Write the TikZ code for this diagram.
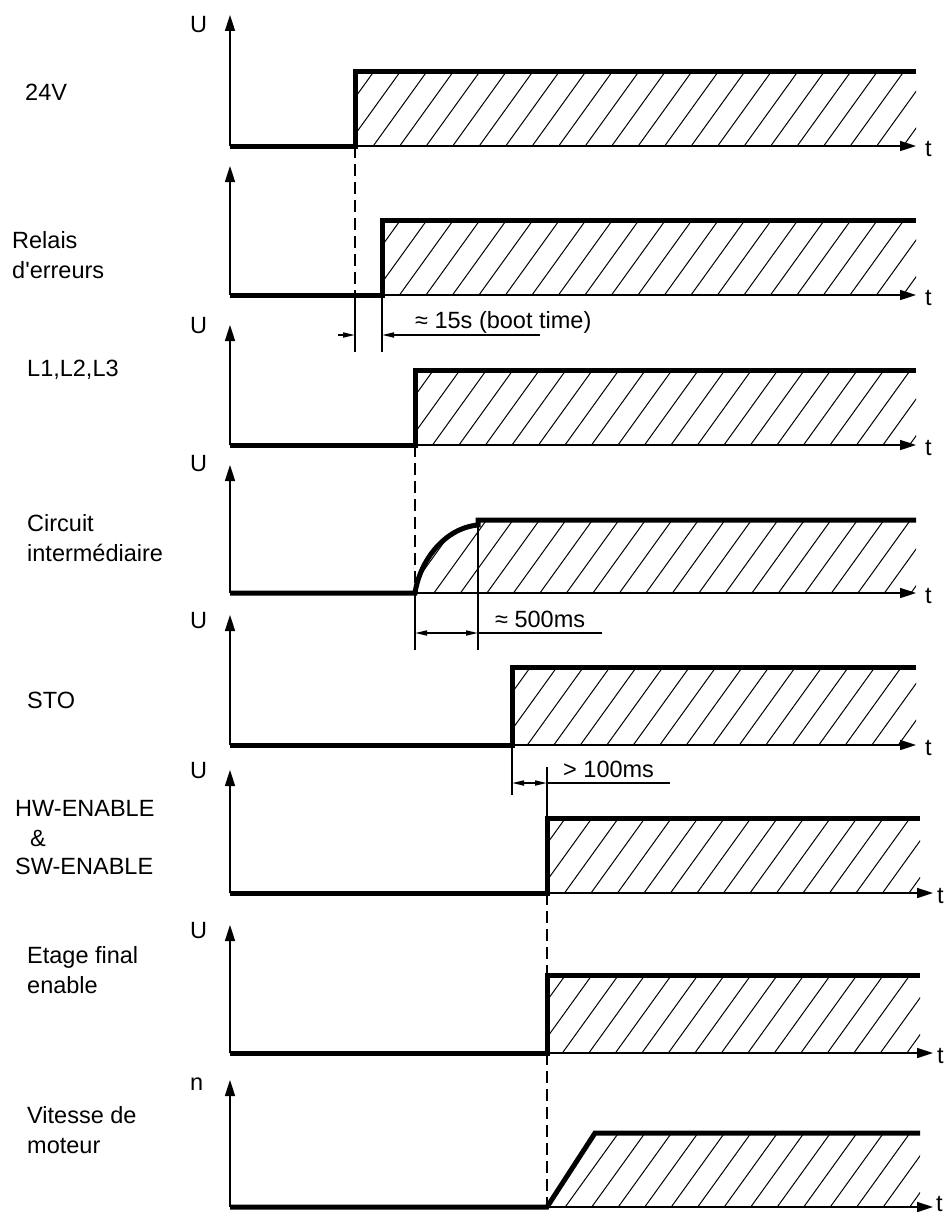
\documentclass[tikz,border=0pt]{standalone}
\usepackage{fontspec}
\setmainfont{Liberation Sans}
\usetikzlibrary{arrows.meta}
\newcommand{\hatchlines}[3]{% #1 xstart, #2 ybase, #3 height
  \foreach \i in {0,...,32} {\draw[hatchline] ({#1+\i*26.5},#2) -- ++({0.72*#3},{-#3});}}
\newcommand{\steppanel}[6]{% #1 tip, #2 base, #3 high, #4 rise, #5 end, #6 arrow end
  \begin{scope}
    \clip (#4,#3) rectangle (#5,#2);
    \pgfmathsetmacro{\hh}{#2-#3}
    \hatchlines{#4-0.72*\hh-8}{#2}{\hh}
  \end{scope}
  \draw[axis] (230,#2) -- (230,#1);
  \draw[axis] (230,#2) -- (#6,#2);
  \draw[signal] (230,#2) -- (#4,#2) -- (#4,#3) -- (#5,#3);}
\begin{document}
\begin{tikzpicture}[x=1pt,y=-1pt,
  axis/.style={line width=1.6pt,-{Triangle[length=16pt,width=10pt]}},
  signal/.style={line width=5pt,line join=miter},
  hatchline/.style={line width=1pt},
  dashline/.style={line width=1.6pt,dash pattern=on 12pt off 6pt},
  extline/.style={line width=1.6pt},
  dimtip/.style={line width=1.6pt,-{Triangle[length=12pt,width=5pt]}},
  dimboth/.style={line width=1.6pt,{Triangle[length=12pt,width=5pt]}-{Triangle[length=12pt,width=5pt]}},
  lbl/.style={anchor=base west,inner sep=0pt,font=\fontsize{23.5}{28}\selectfont},
]
\useasboundingbox (0,0) rectangle (950,1215);

% ---------- panels ----------
\steppanel{15}{146}{72}{355}{916}{916}
\steppanel{166}{295}{220}{382}{916}{916}
\steppanel{325}{445}{370}{415}{916}{916}
\steppanel{615}{745}{667}{512}{916}{916}
\steppanel{770}{893}{818}{547}{920}{933}
\steppanel{925}{1053}{975}{547}{920}{933}

% panel 4 : intermediate circuit (curve)
\begin{scope}
  \clip (415,593) .. controls (420,560) and (445,528) .. (478,525) -- (478,520) -- (916,520) -- (916,593) -- cycle;
  \hatchlines{415-0.72*73-8}{593}{73}
\end{scope}
\draw[axis] (230,593) -- (230,465);
\draw[axis] (230,593) -- (916,593);
\draw[signal] (230,593) -- (415,593) .. controls (420,560) and (445,528) .. (478,525) -- (478,520) -- (916,520);

% panel 8 : motor speed (ramp)
\begin{scope}
  \clip (547,1207) -- (595,1133) -- (920,1133) -- (920,1207) -- cycle;
  \hatchlines{547-0.72*74-8}{1207}{74}
\end{scope}
\draw[axis] (230,1207) -- (230,1080);
\draw[axis] (230,1207) -- (933,1207);
\draw[signal] (230,1207) -- (547,1207) -- (595,1133) -- (920,1133);

% ---------- dashed / extension lines ----------
\draw[dashline] (355,146) -- (355,295);
\draw[extline] (355,295) -- (355,352);
\draw[extline] (382,295) -- (382,352);
\draw[dashline] (415,445) -- (415,593);
\draw[extline] (415,593) -- (415,650);
\draw[extline] (478,520) -- (478,650);
\draw[extline] (512,745) -- (512,795);
\draw[extline] (547,767) -- (547,818);
\draw[dashline] (547,893) -- (547,975);
\draw[dashline] (547,1053) -- (547,1207);

% ---------- dimensions ----------
\draw[dimtip] (338,335) -- (355,335);
\draw[dimtip] (540,335) -- (382,335);
\node[lbl] (t15) at (415,328) {≈ 15s (boot time)};

\draw[dimboth] (415,633) -- (478,633);
\draw[extline] (478,633) -- (602,633);
\node[lbl] (t500) at (495,627) {≈ 500ms};

\draw[dimboth] (512,783) -- (547,783);
\draw[extline] (547,783) -- (670,783);
\node[lbl] (t100) at (563,777) {> 100ms};

% ---------- axis labels ----------
\node[lbl] (u1) at (190,33) {U};
\node[lbl] (u3) at (190,333) {U};
\node[lbl] (u4) at (190,471) {U};
\node[lbl] (u5) at (190,628) {U};
\node[lbl] (u6) at (190,778) {U};
\node[lbl] (u7) at (190,938) {U};
\node[lbl] (n8) at (190,1090) {n};

\node[lbl] (tt1) at (925,156) {t};
\node[lbl] (tt2) at (925,305) {t};
\node[lbl] (tt3) at (925,455) {t};
\node[lbl] (tt4) at (925,603) {t};
\node[lbl] (tt5) at (925,755) {t};
\node[lbl] (tt6) at (937,903) {t};
\node[lbl] (tt7) at (937,1063) {t};
\node[lbl] (tt8) at (936,1211) {t};

% ---------- signal names ----------
\node[lbl] (l1) at (25,100) {24V};
\node[lbl] (l2a) at (12,248) {Relais};
\node[lbl] (l2b) at (12,278) {d\textquotesingle erreurs};
\node[lbl] (l3) at (27,376) {L1,L2,L3};
\node[lbl] (l4a) at (27,531) {Circuit};
\node[lbl] (l4b) at (27,561) {intermédiaire};
\node[lbl] (l5) at (27,708) {STO};
\node[lbl] (l6a) at (15,816) {HW-ENABLE};
\node[lbl] (l6b) at (30,846) {\&};
\node[lbl] (l6c) at (15,874) {SW-ENABLE};
\node[lbl] (l7a) at (27,963) {Etage final};
\node[lbl] (l7b) at (27,993) {enable};
\node[lbl] (l8a) at (27,1123) {Vitesse de};
\node[lbl] (l8b) at (27,1153) {moteur};
\end{tikzpicture}
\end{document}
